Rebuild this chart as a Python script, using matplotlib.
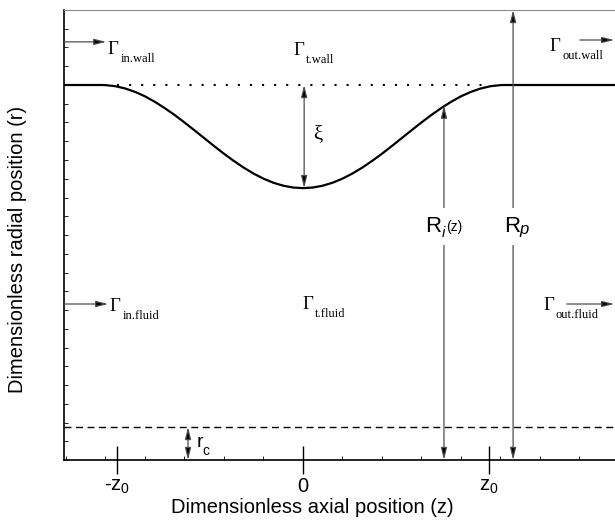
import numpy as np
import matplotlib.pyplot as plt
from matplotlib.ticker import MultipleLocator, NullLocator

plt.rcParams['font.family'] = ['Liberation Sans', 'DejaVu Sans']
plt.rcParams['mathtext.fontset'] = 'custom'
plt.rcParams['mathtext.rm'] = 'Liberation Sans'
plt.rcParams['mathtext.it'] = 'Liberation Sans:italic'

# geometry (z in grid units, r scaled so that R_p = 1)
z0 = 4.7
r_p = 1.0
r_c = 0.088
z_min, z_max = -6.05, 7.9
r_max = 1.2

# stenosed wall profile
wall_z = [-6.05, -5.1, -5.0, -4.75, -4.5, -4.25, -4.0, -3.75, -3.5, -3.25, -3.0, -2.75, -2.5,
          -2.25, -2.0, -1.75, -1.5, -1.25, -1.0, -0.75, -0.5, -0.25, 0.0,
          0.25, 0.5, 0.75, 1.0, 1.25, 1.5, 1.75, 2.0, 2.25, 2.5, 2.75, 3.0, 3.25,
          3.5, 3.75, 4.0, 4.25, 4.5, 4.75, 5.0, 5.1, 7.9]
wall_r = [1.0, 1.0, 0.9997, 0.9968, 0.9907, 0.9816, 0.9698, 0.9551, 0.9384, 0.92, 0.9001, 0.8794, 0.8583,
          0.8372, 0.8167, 0.7975, 0.7796, 0.7638, 0.7503, 0.7394, 0.7315, 0.7266, 0.725,
          0.7266, 0.7315, 0.7394, 0.7503, 0.7638, 0.7796, 0.7975, 0.8167, 0.8372, 0.8583, 0.8794, 0.9001, 0.92,
          0.9384, 0.9551, 0.9698, 0.9816, 0.9907, 0.9968, 0.9997, 1.0, 1.0]

# dimension arrows
xi_z = 0.03
r_throat = 0.725
ri_z, ri_r = 3.57, 0.945
rp_z = 5.32
rc_z = -2.91

# boundary labels
gamma_names = ['in.wall', 't.wall', 'out.wall', 'in.fluid', 't.fluid', 'out.fluid']
gamma_z = [-4.94, -0.253, 6.25, -4.89, -0.025, 6.08]
gamma_r = [1.083, 1.08, 1.091, 0.397, 0.403, 0.4]
flow_r = [1.115, 0.416]

fig = plt.figure(figsize=(6.15, 5.2), dpi=100)
ax = fig.add_axes([64/615, 60/520, 1 - 64/615, 450/520])

ax.plot(wall_z, wall_r, color='k', lw=1.6, solid_capstyle='butt')
ax.plot([-z0, z0], [r_p, r_p], color='k', lw=1.5, linestyle=(0, (1, 4.8)))
ax.plot([z_min, z_max], [r_c, r_c], color='k', lw=1.0, linestyle=(0, (5, 3.3)))

ax.set_xlim(z_min, z_max)
ax.set_ylim(0, r_max)

ax.spines['right'].set_visible(False)
ax.spines['top'].set_color('0.55')
ax.spines['top'].set_linewidth(0.8)
ax.spines['left'].set_linewidth(1.2)
ax.spines['bottom'].set_linewidth(1.2)

ax.set_xticks([-z0, 0, z0])
ax.set_xticklabels(['-z$_0$', '0', 'z$_0$'], fontsize=14.5)
ax.xaxis.set_minor_locator(MultipleLocator(1))
ax.tick_params(axis='x', which='major', direction='inout', length=20, width=1.0, pad=2)
ax.tick_params(axis='x', which='minor', direction='in', length=3, width=0.6)
ax.yaxis.set_major_locator(NullLocator())
ax.yaxis.set_minor_locator(MultipleLocator(0.05))
ax.tick_params(axis='y', which='minor', direction='in', length=3, width=0.6)

fig.text(312/615, 1 - 513/520, 'Dimensionless axial position (z)', ha='center', va='baseline', fontsize=14.5)
fig.text(18/615, 1 - 249/520, 'Dimensionless radial position (r)', ha='center', va='center',
         rotation=90, fontsize=14.5)

arrow2 = dict(arrowstyle='<|-|>,head_length=0.6,head_width=0.15', mutation_scale=12,
              fc='k', ec='0.3', lw=0.9, shrinkA=0, shrinkB=0)
arrow1 = dict(arrowstyle='-|>,head_length=0.6,head_width=0.15', mutation_scale=12,
              fc='k', ec='0.3', lw=0.9, shrinkA=0, shrinkB=0)

# xi, R_i, R_p, r_c
ax.annotate('', xy=(xi_z, r_p), xytext=(xi_z, r_throat), arrowprops=arrow2)
ax.annotate('', xy=(ri_z, ri_r), xytext=(ri_z, 0), arrowprops=arrow2)
ax.annotate('', xy=(rp_z, r_max), xytext=(rp_z, 0), arrowprops=arrow2)
ax.annotate('', xy=(rc_z, r_c), xytext=(rc_z, 0), arrowprops=arrow2)

ax.text(0.25, 0.867, 'ξ', fontsize=15, family='Liberation Serif', ha='left', va='center')

ax.text(3.1, 0.608, 'R', fontsize=16, ha='left', va='baseline',
        bbox=dict(fc='white', ec='none', pad=6))
ax.text(3.52, 0.594, 'i', fontsize=11, style='italic', ha='left', va='baseline')
ax.text(3.62, 0.61, '(z)', fontsize=10, ha='left', va='baseline')
ax.text(5.1, 0.608, 'R', fontsize=16, ha='left', va='baseline',
        bbox=dict(fc='white', ec='none', pad=6))
ax.text(5.48, 0.603, 'p', fontsize=12, style='italic', ha='left', va='baseline')

ax.text(-2.7, 0.035, 'r', fontsize=14, ha='left', va='baseline')
ax.text(-2.54, 0.013, 'c', fontsize=10, ha='left', va='baseline')

# boundary names and flow arrows
for name, gz, gr in zip(gamma_names, gamma_z, gamma_r):
    ax.text(gz, gr, 'Γ', fontsize=13.5, family='Liberation Serif', ha='left', va='baseline')
    ax.annotate(name, xy=(gz, gr), xytext=(9.2, -5.6), textcoords='offset points',
                fontsize=9, family='Liberation Serif', ha='left', va='baseline')
ax.annotate('', xy=(-4.98, flow_r[0]), xytext=(z_min, flow_r[0]), arrowprops=arrow1)
ax.annotate('', xy=(-4.93, flow_r[1]), xytext=(z_min, flow_r[1]), arrowprops=arrow1)
ax.annotate('', xy=(7.88, 1.12), xytext=(7.01, 1.12), arrowprops=arrow1)
ax.annotate('', xy=(7.88, flow_r[1]), xytext=(6.68, flow_r[1]), arrowprops=arrow1)

fig.savefig('out.png', dpi=100)
